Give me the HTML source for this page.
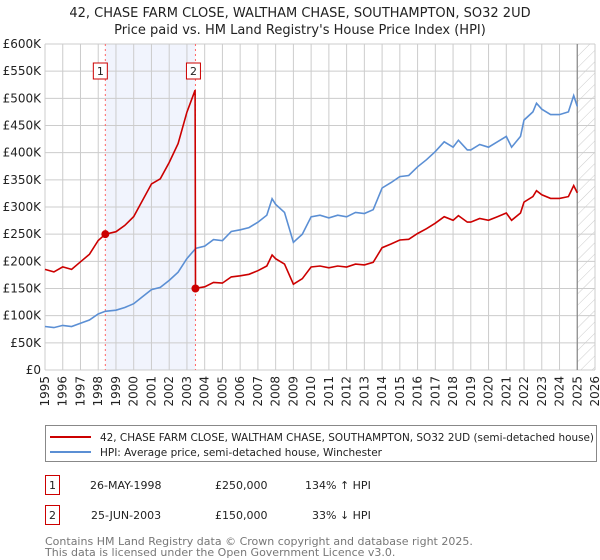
<!DOCTYPE html>
<html><head><meta charset="utf-8"><style>
body{margin:0;background:#fff;width:600px;height:560px;overflow:hidden}
svg{display:block;font-family:"DejaVu Sans","Liberation Sans",sans-serif}
</style></head><body>
<svg id="chart" width="600" height="560">
<text x="300" y="17" text-anchor="middle" font-size="13" fill="#222">42, CHASE FARM CLOSE, WALTHAM CHASE, SOUTHAMPTON, SO32 2UD</text>
<text x="300" y="34" text-anchor="middle" font-size="13" fill="#222">Price paid vs. HM Land Registry's House Price Index (HPI)</text>
<g id="plot"></g>
<rect x="45.5" y="425.5" width="551" height="36" fill="#fff" stroke="#888"/>
<line x1="50" y1="437" x2="91" y2="437" stroke="#cc0000" stroke-width="2"/>
<text x="100" y="441" font-size="11" fill="#222" textLength="494" lengthAdjust="spacingAndGlyphs">42, CHASE FARM CLOSE, WALTHAM CHASE, SOUTHAMPTON, SO32 2UD (semi-detached house)</text>
<line x1="50" y1="452" x2="91" y2="452" stroke="#5b8fd4" stroke-width="2"/>
<text x="100" y="456" font-size="11" fill="#222" textLength="282" lengthAdjust="spacingAndGlyphs">HPI: Average price, semi-detached house, Winchester</text>
<g>
<rect x="45.5" y="475.5" width="14" height="19" fill="#fff" stroke="#cc0000"/>
<text x="52.5" y="489" text-anchor="middle" font-size="11" fill="#222">1</text>
<text x="90" y="489" font-size="11" fill="#222">26-MAY-1998</text>
<text x="215" y="489" font-size="11" fill="#222">£250,000</text>
<text x="305" y="489" font-size="11" fill="#222">134% ↑ HPI</text>
</g>
<g>
<rect x="45.5" y="505.5" width="14" height="19" fill="#fff" stroke="#cc0000"/>
<text x="52.5" y="519" text-anchor="middle" font-size="11" fill="#222">2</text>
<text x="91" y="519" font-size="11" fill="#222">25-JUN-2003</text>
<text x="215" y="519" font-size="11" fill="#222">£150,000</text>
<text x="312" y="519" font-size="11" fill="#222">33% ↓ HPI</text>
</g>
<text x="45" y="545" font-size="11" fill="#777">Contains HM Land Registry data © Crown copyright and database right 2025.</text>
<text x="45" y="556" font-size="11" fill="#777">This data is licensed under the Open Government Licence v3.0.</text>
</svg>
<script>
const hpiYears=[1995,1995.5,1996,1996.5,1997,1997.5,1998,1998.4,1999,1999.5,2000,2000.5,2001,2001.5,2002,2002.5,2003,2003.5,2004,2004.5,2005,2005.5,2006,2006.5,2007,2007.5,2007.8,2008,2008.5,2009,2009.5,2010,2010.5,2011,2011.5,2012,2012.5,2013,2013.5,2014,2014.5,2015,2015.5,2016,2016.5,2017,2017.5,2018,2018.3,2018.8,2019,2019.5,2020,2020.5,2021,2021.3,2021.8,2022,2022.5,2022.7,2023,2023.5,2024,2024.5,2024.8,2025.0];
const hpiValues=[80,78,82,80,86,92,103,108,110,115,122,135,148,152,165,180,205,224,228,240,238,255,258,262,272,285,315,305,290,235,250,282,285,280,285,282,290,288,295,335,345,356,358,374,387,402,420,410,423,405,405,415,410,420,430,410,430,460,475,491,480,470,470,475,505,485];
const saleYears=[1998.4,2003.48];
const salePrices=[250,150];
const yTicks=[0,50,100,150,200,250,300,350,400,450,500,550,600];
const xTicks=[1995,1996,1997,1998,1999,2000,2001,2002,2003,2004,2005,2006,2007,2008,2009,2010,2011,2012,2013,2014,2015,2016,2017,2018,2019,2020,2021,2022,2023,2024,2025,2026];
const X0=45,X1=595,Y0=370,Y1=44;
const xs=y=>X0+(y-1995)/(2026-1995)*(X1-X0);
const ys=v=>Y0-v/600*(Y0-Y1);
const NS="http://www.w3.org/2000/svg";
const g=document.getElementById('plot');
function mk(t,a,p){const e=document.createElementNS(NS,t);for(const k in a)e.setAttribute(k,a[k]);(p||g).appendChild(e);return e;}
function hpiAt(t){for(let i=0;i<hpiYears.length-1;i++){if(t<=hpiYears[i+1]){const f=(t-hpiYears[i])/(hpiYears[i+1]-hpiYears[i]);return hpiValues[i]+f*(hpiValues[i+1]-hpiValues[i]);}}return hpiValues[hpiValues.length-1];}
const band=mk('rect',{x:xs(saleYears[0]),y:Y1,width:xs(saleYears[1])-xs(saleYears[0]),height:Y0-Y1,fill:'#f1f4fd'});


const defs=mk('defs',{});
const pat=mk('pattern',{id:'hatch',width:8,height:8,patternUnits:'userSpaceOnUse',patternTransform:'rotate(45)'},defs);
mk('line',{x1:0,y1:0,x2:0,y2:8,stroke:'#ccc','stroke-width':1},pat);
const hx=xs(2025.0);
const hatch=mk('rect',{x:hx,y:Y1,width:X1-hx,height:Y0-Y1,fill:'url(#hatch)'});


xTicks.forEach(t=>{const l=mk('line',{x1:xs(t),y1:Y1,x2:xs(t),y2:Y0,stroke:'#ccc'});


const tx=mk('text',{x:0,y:0,transform:`translate(${xs(t)+4},${Y0+6}) rotate(-90)`,'text-anchor':'end','font-size':12,fill:'#222'});tx.textContent=t;

});
yTicks.forEach(v=>{const l=mk('line',{x1:X0,y1:ys(v),x2:X1,y2:ys(v),stroke:'#ccc'});


const tx=mk('text',{x:X0-4,y:ys(v)+4,'text-anchor':'end','font-size':12,fill:'#222'});tx.textContent=v===0?'£0':'£'+v+'K';

});
const vl=mk('line',{x1:hx,y1:Y1,x2:hx,y2:Y0,stroke:'#888','stroke-width':1.2});


saleYears.forEach((s,i)=>{const l=mk('line',{x1:xs(s),y1:Y1,x2:xs(s),y2:Y0,stroke:'#ff6666','stroke-dasharray':'2,3'});


const bx=xs(s)-(i===0?8:5)-4;
const r=mk('rect',{x:bx,y:63,width:14,height:16,fill:'#fff',stroke:'#cc0000'});


const tt=mk('text',{x:bx+7,y:75,'text-anchor':'middle','font-size':11,fill:'#222'});tt.textContent=i+1;});
let d='';hpiYears.forEach((t,i)=>{d+=(i?'L':'M')+xs(t).toFixed(1)+','+ys(hpiValues[i]).toFixed(1);});
const hl=mk('path',{d,fill:'none',stroke:'#5b8fd4','stroke-width':1.6});


const r1=salePrices[0]/hpiAt(saleYears[0]),r2=salePrices[1]/hpiAt(saleYears[1]);
let pts=[];
hpiYears.forEach((t,i)=>{if(t<saleYears[1])pts.push([t,hpiValues[i]*r1]);});
pts.push([saleYears[1]-0.02,hpiAt(saleYears[1]-0.02)*r1]);
pts.push([saleYears[1],salePrices[1]]);
hpiYears.forEach((t,i)=>{if(t>saleYears[1])pts.push([t,hpiValues[i]*r2]);});
d='';pts.forEach((p,i)=>{d+=(i?'L':'M')+xs(p[0]).toFixed(1)+','+ys(p[1]).toFixed(1);});
const pl=mk('path',{d,fill:'none',stroke:'#cc0000','stroke-width':1.6});


saleYears.forEach((s,i)=>{const c=mk('circle',{cx:xs(s),cy:ys(salePrices[i]),r:4,fill:'#cc0000'});

});
</script>
</body></html>
